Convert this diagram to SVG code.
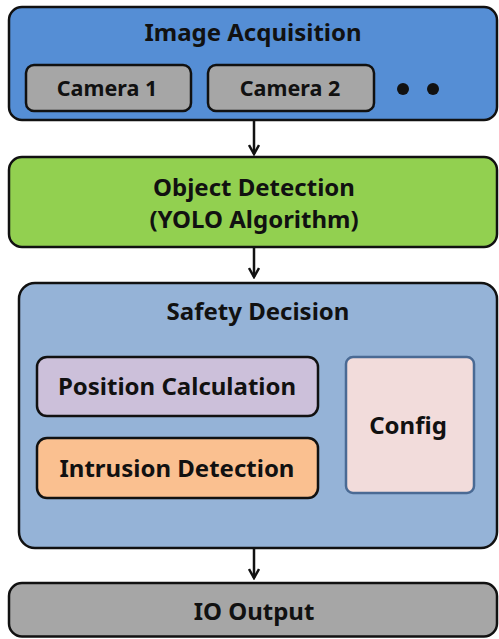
<svg xmlns="http://www.w3.org/2000/svg" width="499" height="639" viewBox="0 0 499 639">
  <style>
    text { font-family: "Noto Sans", "Open Sans", sans-serif; font-weight: bold; fill: #111; text-anchor: middle; }
    .t { font-size: 24px; }
    .s { font-size: 21.5px; }
    .box { stroke: #111; stroke-width: 2.5; }
    .conn { stroke: #111; stroke-width: 2.5; fill: none; }
  </style>
  <defs>
    <marker id="arrow" viewBox="0 0 12 12" refX="10" refY="6" markerWidth="12" markerHeight="12" markerUnits="userSpaceOnUse" orient="auto">
      <path d="M1,1 L10,6 L1,11" fill="none" stroke="#111" stroke-width="2.5"/>
    </marker>
  </defs>

  <g id="image-acquisition">
    <rect class="box" x="9" y="7" width="488" height="113" rx="13" fill="#558ED5"/>
    <text class="t" x="253" y="41">Image Acquisition</text>
    <g id="camera-1">
      <rect class="box" x="26" y="65" width="165" height="46" rx="8" fill="#A6A6A6"/>
      <text class="s" x="107" y="96">Camera 1</text>
    </g>
    <g id="camera-2">
      <rect class="box" x="208" y="65" width="166" height="46" rx="8" fill="#A6A6A6"/>
      <text class="s" x="290" y="96">Camera 2</text>
    </g>
    <circle cx="403" cy="89" r="6" fill="#111"/>
    <circle cx="433" cy="89" r="6" fill="#111"/>
  </g>

  <g id="object-detection">
    <rect class="box" x="9" y="157" width="488" height="90" rx="13" fill="#92D050"/>
    <text class="t" x="254" y="196">Object Detection</text>
    <text class="t" x="254" y="228">(YOLO Algorithm)</text>
  </g>

  <g id="safety-decision">
    <rect class="box" x="19" y="283" width="478" height="265" rx="16" fill="#95B3D7"/>
    <text class="t" x="258" y="320">Safety Decision</text>
    <g id="position-calculation">
      <rect class="box" x="37" y="357" width="281" height="59" rx="10" fill="#CCC0DA"/>
      <text class="t" x="177" y="395">Position Calculation</text>
    </g>
    <g id="intrusion-detection">
      <rect class="box" x="37" y="438" width="281" height="60" rx="10" fill="#FAC090"/>
      <text class="t" x="177" y="477">Intrusion Detection</text>
    </g>
    <g id="config">
      <rect x="346" y="357" width="128" height="136" rx="7" fill="#F2DCDB" stroke="#4A6A94" stroke-width="2.5"/>
      <text class="t" x="408" y="434">Config</text>
    </g>
  </g>

  <g id="io-output">
    <rect class="box" x="9" y="583" width="488" height="53.5" rx="13" fill="#A6A6A6"/>
    <text class="t" x="254" y="620">IO Output</text>
  </g>

  <g id="connectors">
    <line class="conn" x1="254" y1="120" x2="254" y2="154" marker-end="url(#arrow)"/>
    <line class="conn" x1="254" y1="247" x2="254" y2="277" marker-end="url(#arrow)"/>
    <line class="conn" x1="254" y1="548" x2="254" y2="578" marker-end="url(#arrow)"/>
  </g>
</svg>
